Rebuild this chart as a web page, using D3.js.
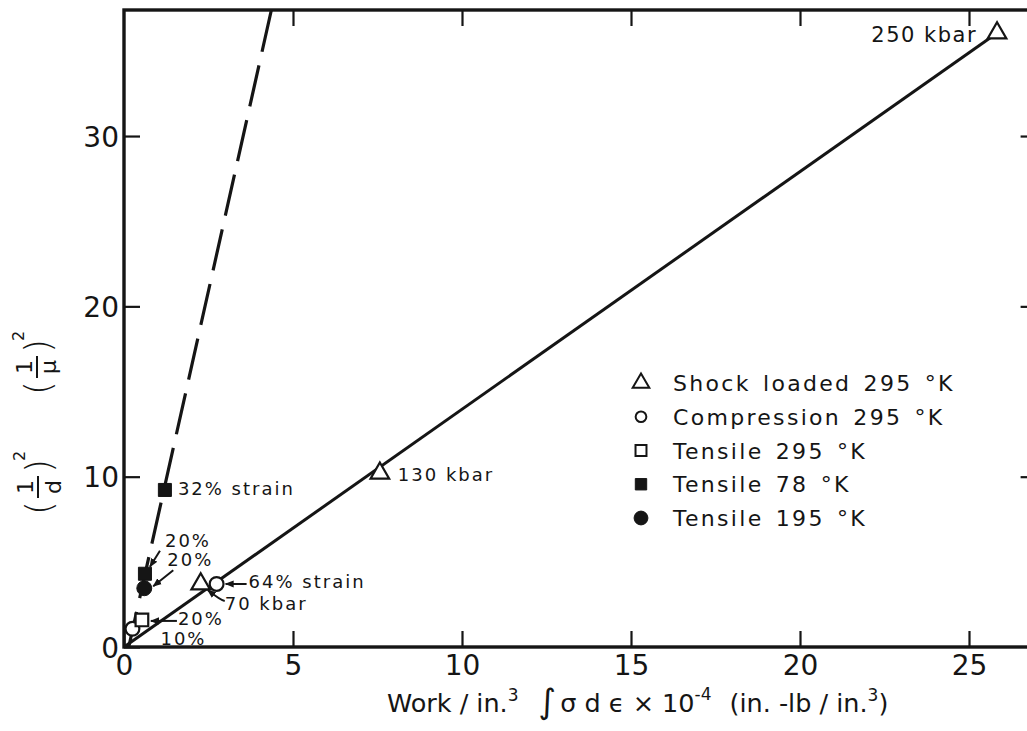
<!DOCTYPE html>
<html>
<head>
<meta charset="utf-8">
<script src="https://cdn.jsdelivr.net/npm/d3@7"></script>
<style>
  body { margin: 0; background: #fff; }
  svg { display: block; }
</style>
</head>
<body>
<svg id="chart" width="1027" height="731"></svg>
<script>
// ---- data: work per unit volume (x 10^-4 in.-lb/in.^3) vs (1/d)^2, (1/mu)^2 ----
const seriesNames = ["Shock loaded 295 °K", "Compression 295 °K", "Tensile 295 °K", "Tensile 78 °K", "Tensile 195 °K"];

const shockWork = [2.27, 7.57, 25.83];
const shockInv = [3.7, 10.2, 36.05];
const shockLabels = ["70 kbar", "130 kbar", "250 kbar"];

const compWork = [0.25, 2.74];
const compInv = [1.07, 3.7];
const compLabels = ["10%", "64% strain"];

const tens295Work = [0.53];
const tens295Inv = [1.59];
const tens295Labels = ["20%"];

const tens78Work = [0.62, 1.21];
const tens78Inv = [4.3, 9.22];
const tens78Labels = ["20%", "32% strain"];

const tens195Work = [0.6];
const tens195Inv = [3.45];
const tens195Labels = ["20%"];

const xTicks = [0, 5, 10, 15, 20, 25];
const yTicks = [0, 10, 20, 30];

// fitted lines, endpoints in data units
const solidLineX = [0, 25.83];
const solidLineY = [0, 36.05];
const dashedLineX = [0.14, 4.36];
const dashedLineY = [0, 37.4];

// ---- layout ----
const W = 1027, H = 731;
const ink = "#151515";
const font = "'DejaVu Sans', sans-serif";

const svg = d3.select("#chart");
svg.append("rect").attr("width", W).attr("height", H).attr("fill", "#fff");

const x = d3.scaleLinear().domain([0, 27]).range([124, 124 + 27 * 33.8]);
const y = d3.scaleLinear().domain([0, 37.4]).range([647, 10]);

const defs = svg.append("defs");
defs.append("marker")
  .attr("id", "arrowhead")
  .attr("viewBox", "0 0 10 10")
  .attr("refX", 9).attr("refY", 5)
  .attr("markerWidth", 9).attr("markerHeight", 9)
  .attr("markerUnits", "userSpaceOnUse")
  .attr("orient", "auto")
  .append("path").attr("d", "M0,1 L10,5 L0,9 Z").attr("fill", ink);

// ---- axes (ticks point inward on all four sides) ----
const tickLen = 16;
function styleAxis(g, showLabels) {
  g.select(".domain").remove();
  g.selectAll(".tick line").attr("stroke", ink).attr("stroke-width", 2.2);
  g.selectAll(".tick text")
    .attr("fill", ink)
    .attr("font-family", font)
    .attr("font-size", 28)
    .style("display", showLabels ? null : "none");
}

svg.append("g")
  .attr("transform", `translate(0,${y(0)})`)
  .call(d3.axisBottom(x).tickValues(xTicks).tickSize(-tickLen).tickSizeOuter(0).tickPadding(8).tickFormat(d3.format("d")))
  .call(g => styleAxis(g, true))
  .call(g => g.selectAll(".tick text").attr("dy", "0.71em"));

svg.append("g")
  .attr("transform", `translate(${x(0)},0)`)
  .call(d3.axisLeft(y).tickValues(yTicks).tickSize(-tickLen).tickSizeOuter(0).tickPadding(5).tickFormat(d3.format("d")))
  .call(g => styleAxis(g, true))
  .call(g => g.selectAll(".tick text").attr("dy", "0.36em"));

svg.append("g")
  .attr("transform", `translate(0,${y(37.4)})`)
  .call(d3.axisTop(x).tickValues(xTicks.slice(1)).tickSize(-tickLen).tickSizeOuter(0))
  .call(g => styleAxis(g, false));

svg.append("g")
  .attr("transform", `translate(${x(27)},0)`)
  .call(d3.axisRight(y).tickValues(yTicks.slice(1)).tickSize(-tickLen).tickSizeOuter(0))
  .call(g => styleAxis(g, false));

// frame
svg.append("rect")
  .attr("x", x(0)).attr("y", y(37.4))
  .attr("width", x(27) - x(0)).attr("height", y(0) - y(37.4))
  .attr("fill", "none").attr("stroke", ink).attr("stroke-width", 3.4);

// ---- trend lines ----
const lineGen = d3.line().x(d => x(d[0])).y(d => y(d[1]));
svg.append("path")
  .datum(d3.zip(solidLineX, solidLineY))
  .attr("d", lineGen)
  .attr("fill", "none").attr("stroke", ink).attr("stroke-width", 3);

svg.append("path")
  .datum(d3.zip(dashedLineX, dashedLineY))
  .attr("d", lineGen)
  .attr("fill", "none").attr("stroke", ink).attr("stroke-width", 3.2)
  .attr("stroke-dasharray", "42,14").attr("stroke-dashoffset", 6);

// ---- points ----
const series = [
  { key: "shock", work: shockWork, inv: shockInv, labels: shockLabels, symbol: d3.symbolTriangle, size: 150, filled: false },
  { key: "comp", work: compWork, inv: compInv, labels: compLabels, symbol: d3.symbolCircle, size: 150, filled: false },
  { key: "t295", work: tens295Work, inv: tens295Inv, labels: tens295Labels, symbol: d3.symbolSquare, size: 160, filled: false },
  { key: "t78", work: tens78Work, inv: tens78Inv, labels: tens78Labels, symbol: d3.symbolSquare, size: 170, filled: true },
  { key: "t195", work: tens195Work, inv: tens195Inv, labels: tens195Labels, symbol: d3.symbolCircle, size: 175, filled: true }
];

const points = series.flatMap(s => s.work.map((w, i) => ({ s, i, w, v: s.inv[i], label: s.labels[i] })));

svg.append("g").selectAll("path")
  .data(points)
  .join("path")
  .attr("transform", d => `translate(${x(d.w)},${y(d.v)})`)
  .attr("d", d => d3.symbol(d.s.symbol, d.s.size)())
  .attr("fill", d => d.s.filled ? ink : "#fff")
  .attr("stroke", ink)
  .attr("stroke-width", d => d.s.filled ? 1 : 2.2);

// ---- point annotations (offsets in px from the point) ----
const annotationLayout = {
  "shock-0": { lx: 24, ly: 26, arrow: { from: [24, 17], to: [7, 6], curve: true } },
  "shock-1": { lx: 18, ly: 8 },
  "shock-2": { lx: -20, ly: 9, anchor: "end", size: 21, spacing: 1.5 },
  "comp-0": { lx: 28, ly: 16 },
  "comp-1": { lx: 32, ly: 4, arrow: { from: [30, 0], to: [9, 0] } },
  "t295-0": { lx: 36, ly: 5, arrow: { from: [35, 1], to: [9, 1] } },
  "t78-0": { lx: 20, ly: -27, arrow: { from: [15, -23], to: [5, -7] } },
  "t78-1": { lx: 13, ly: 5 },
  "t195-0": { lx: 23, ly: -22, arrow: { from: [29, -18], to: [9, -2] } }
};

const ann = svg.append("g");
points.forEach(p => {
  const a = annotationLayout[`${p.s.key}-${p.i}`];
  const px = x(p.w), py = y(p.v);
  ann.append("text")
    .attr("x", px + a.lx).attr("y", py + a.ly)
    .attr("text-anchor", a.anchor || "start")
    .attr("font-family", font).attr("font-size", a.size || 18)
    .attr("letter-spacing", a.spacing || 2)
    .attr("fill", ink)
    .text(p.label);
  if (a.arrow) {
    const [fx, fy] = a.arrow.from, [tx, ty] = a.arrow.to;
    let d;
    if (a.arrow.curve) {
      d = `M${px + fx},${py + fy} Q${px + (fx + tx) / 2 + 4},${py + fy - 1} ${px + tx},${py + ty}`;
    } else {
      d = `M${px + fx},${py + fy} L${px + tx},${py + ty}`;
    }
    ann.append("path").attr("d", d)
      .attr("fill", "none").attr("stroke", ink).attr("stroke-width", 2)
      .attr("marker-end", "url(#arrowhead)");
  }
});

// ---- legend ----
const legendRow = d3.scalePoint().domain(seriesNames).range([391, 526]);
const legend = svg.append("g");
const legendSym = [
  { symbol: d3.symbolTriangle, size: 120, filled: false },
  { symbol: d3.symbolCircle, size: 90, filled: false },
  { symbol: d3.symbolSquare, size: 120, filled: false },
  { symbol: d3.symbolSquare, size: 130, filled: true },
  { symbol: d3.symbolCircle, size: 150, filled: true }
];
seriesNames.forEach((name, k) => {
  const by = legendRow(name);
  legend.append("path")
    .attr("transform", `translate(641,${by - 8})`)
    .attr("d", d3.symbol(legendSym[k].symbol, legendSym[k].size)())
    .attr("fill", legendSym[k].filled ? ink : "#fff")
    .attr("stroke", ink).attr("stroke-width", legendSym[k].filled ? 1 : 2);
  legend.append("text")
    .attr("x", 673).attr("y", by)
    .attr("font-family", font).attr("font-size", 22)
    .attr("letter-spacing", 2.3).attr("word-spacing", 3)
    .attr("fill", ink)
    .text(name);
});

// ---- y-axis title: (1/d)^2 and (1/mu)^2, rotated ----
function fracLabel(cx, cy, denom, denomBase) {
  const g = svg.append("g").attr("transform", `translate(${cx},${cy}) rotate(-90)`)
    .attr("font-family", font).attr("fill", ink);
  g.append("text").attr("x", -21).attr("y", 13).attr("text-anchor", "middle")
    .attr("font-size", 36).attr("font-weight", 300).text("(");
  g.append("text").attr("x", 21).attr("y", 13).attr("text-anchor", "middle")
    .attr("font-size", 36).attr("font-weight", 300).text(")");
  g.append("line").attr("x1", -11).attr("x2", 11).attr("y1", 0).attr("y2", 0)
    .attr("stroke", ink).attr("stroke-width", 2);
  g.append("text").attr("x", 0).attr("y", -5).attr("text-anchor", "middle")
    .attr("font-size", 22).text("1");
  g.append("text").attr("x", 0).attr("y", denomBase).attr("text-anchor", "middle")
    .attr("font-size", 22).text(denom);
  g.append("text").attr("x", 31).attr("y", -13).attr("text-anchor", "middle")
    .attr("font-size", 16).text("2");
}
fracLabel(38, 487, "d", 23);
fracLabel(37, 367, "μ", 19);

// ---- x-axis title ----
const xt = svg.append("text")
  .attr("x", 387).attr("y", 712)
  .attr("font-family", font).attr("font-size", 25.5).attr("fill", ink);
xt.append("tspan").text("Work / in.");
xt.append("tspan").attr("font-size", 17).attr("dy", -11).text("3");
xt.append("tspan").attr("dx", 20).attr("dy", 12).attr("font-size", 34).attr("font-style", "italic").text("∫");
xt.append("tspan").attr("dy", -1).attr("dx", 4).text("σ d ϵ × 10");
xt.append("tspan").attr("font-size", 17).attr("dy", -12).text("-4");
xt.append("tspan").attr("dx", 18).attr("dy", 12).text("(in. -lb / in.");
xt.append("tspan").attr("font-size", 17).attr("dy", -11).text("3");
xt.append("tspan").attr("dy", 11).text(")");
</script>
</body>
</html>
